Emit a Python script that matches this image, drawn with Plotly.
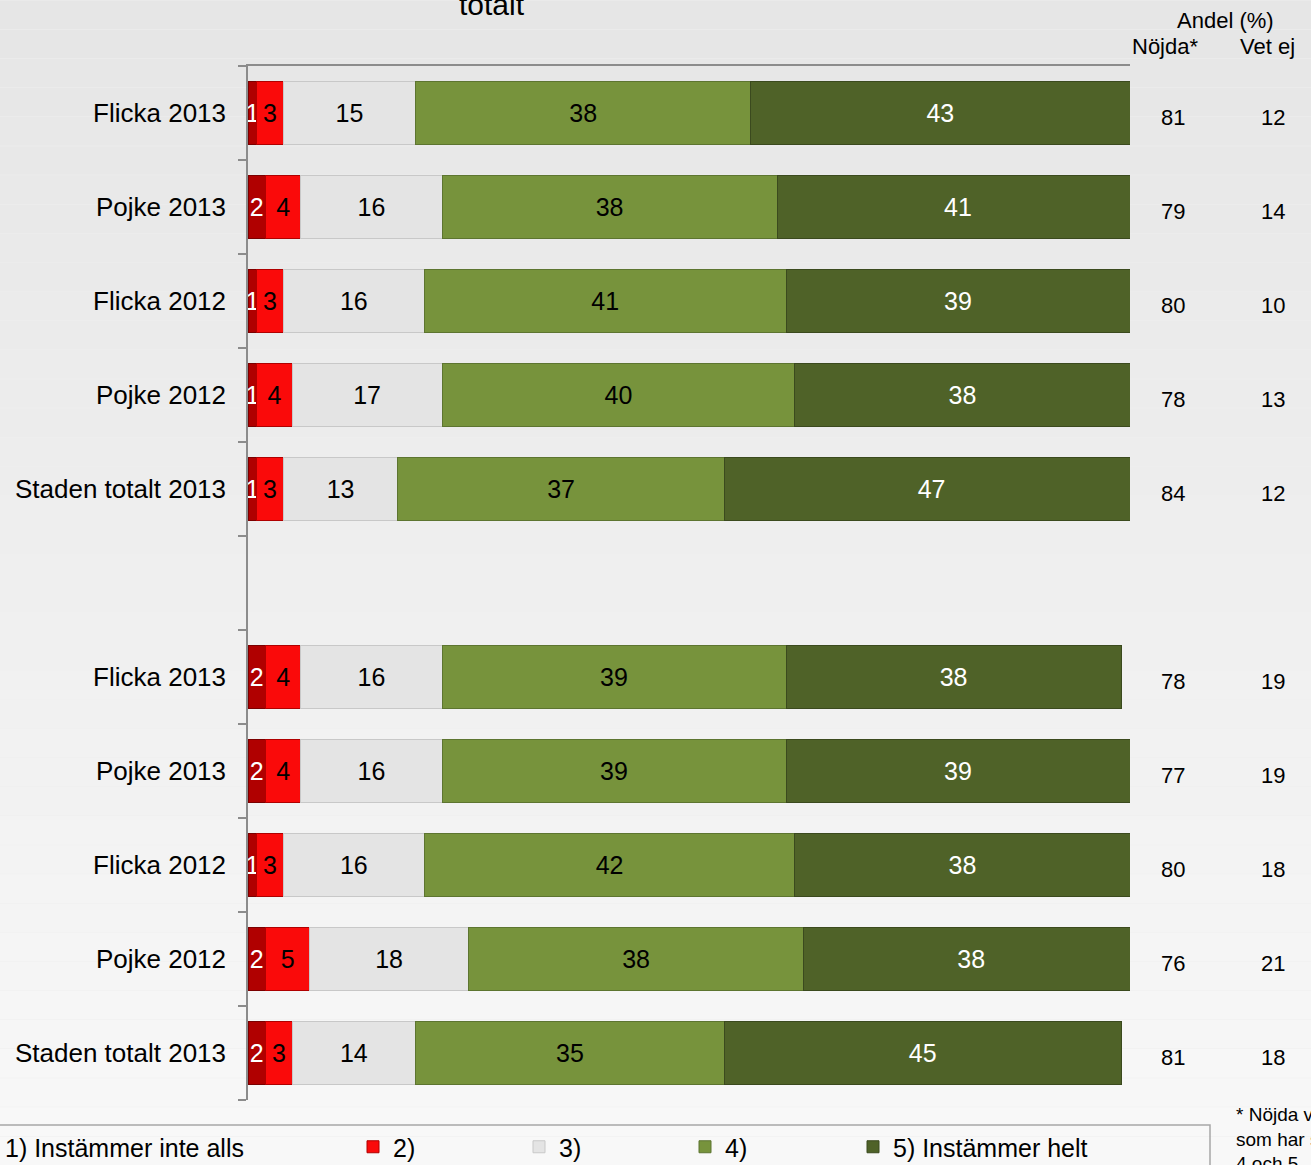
import plotly.graph_objects as go

# ---------------- data ----------------
categories = ["Flicka 2013", "Pojke 2013", "Flicka 2012", "Pojke 2012", "Staden totalt 2013",
              "Flicka 2013", "Pojke 2013", "Flicka 2012", "Pojke 2012", "Staden totalt 2013"]
group_of_row = [0, 0, 0, 0, 0, 1, 1, 1, 1, 1]

series_names = ["1) Instämmer inte alls", "2)", "3)", "4)", "5) Instämmer helt"]
s1 = [1, 2, 1, 1, 1, 2, 2, 1, 2, 2]
s2 = [3, 4, 3, 4, 3, 4, 4, 3, 5, 3]
s3 = [15, 16, 16, 17, 13, 16, 16, 16, 18, 14]
s4 = [38, 38, 41, 40, 37, 39, 39, 42, 38, 35]
s5 = [43, 41, 39, 38, 47, 38, 39, 38, 38, 45]

nojda = [81, 79, 80, 78, 84, 78, 77, 80, 76, 81]
vet_ej = [12, 14, 10, 13, 12, 19, 19, 18, 21, 18]

title_text = "totalt"
header_top = "Andel (%)"
header_nojda = "Nöjda*"
header_vetej = "Vet ej"
footnote = "* Nöjda visar andelen<br>som har svarat<br>4 och 5"

# ---------------- styling ----------------
FONT = "Liberation Sans, Arial, sans-serif"
fill_colors = ["#b00000", "#fa0a0a", "#e4e4e4", "#77933c", "#4f6228"]
edge_colors = ["#7a0000", "#b00000", "#c8c8c8", "#5d7530", "#3b4a1e"]
text_colors = ["white", "black", "black", "black", "white"]
legend_of_series = ["legend2", "legend", "legend", "legend", "legend3"]

# row positions: one empty slot between groups
rows = [i + g for i, g in enumerate(group_of_row)]
n_slots = max(rows) + 1

W, H = 1311, 1165
ML, MR, MT, MB = 248, 181, 66, 65
PW = W - ML - MR
PH = H - MT - MB


def px_x(p):
    return (p - ML) / PW


def px_y(p):
    return (H - MB - p) / PH


fig = go.Figure()

all_series = [s1, s2, s3, s4, s5]
for k, vals in enumerate(all_series):
    fig.add_trace(go.Bar(
        y=rows, x=vals, orientation="h", name=series_names[k],
        marker=dict(color=fill_colors[k], line=dict(color=edge_colors[k], width=1)),
        text=[str(v) for v in vals], textposition="inside",
        insidetextanchor="middle", constraintext="none", textangle=0,
        textfont=dict(family=FONT, size=25, color=text_colors[k]),
        legend=legend_of_series[k],
        hoverinfo="skip",
    ))

# background gradient (style only)
shapes = []
nb = 40
top_c = (0xe6, 0xe6, 0xe6)
bot_c = (0xf8, 0xf8, 0xf8)
y_top = px_y(0)
y_bot = px_y(H)
for b in range(nb):
    t = b / (nb - 1)
    c = tuple(int(round(top_c[j] + (bot_c[j] - top_c[j]) * t)) for j in range(3))
    ya = y_top + (y_bot - y_top) * b / nb
    yb = y_top + (y_bot - y_top) * (b + 1) / nb
    shapes.append(dict(type="rect", xref="paper", yref="paper",
                       x0=px_x(-2), x1=px_x(W + 2), y0=yb, y1=ya - 0.0005,
                       fillcolor="rgb(%d,%d,%d)" % c, line=dict(width=0), layer="below"))

# legend frame
shapes.append(dict(type="rect", xref="paper", yref="paper",
                   x0=px_x(-5), x1=px_x(1210), y0=px_y(1185), y1=px_y(1125),
                   fillcolor="rgba(0,0,0,0)", line=dict(color="#a6a6a6", width=1.5),
                   layer="above"))

annotations = []
annotations.append(dict(text=title_text, xref="paper", yref="paper",
                        x=px_x(492), y=px_y(23), xanchor="center", yanchor="bottom",
                        showarrow=False, font=dict(family=FONT, size=30, color="black")))
annotations.append(dict(text=header_top, xref="paper", yref="paper",
                        x=px_x(1225), y=px_y(20), xanchor="center", yanchor="middle",
                        showarrow=False, font=dict(family=FONT, size=22, color="black")))
annotations.append(dict(text=header_nojda, xref="paper", yref="paper",
                        x=px_x(1165), y=px_y(47), xanchor="center", yanchor="middle",
                        showarrow=False, font=dict(family=FONT, size=22, color="black")))
annotations.append(dict(text=header_vetej, xref="paper", yref="paper",
                        x=px_x(1267), y=px_y(47), xanchor="center", yanchor="middle",
                        showarrow=False, font=dict(family=FONT, size=22, color="black")))
for r, a, b in zip(rows, nojda, vet_ej):
    annotations.append(dict(text=str(a), xref="paper", yref="y", x=px_x(1173), y=r,
                            yshift=-4, xanchor="center", yanchor="middle", showarrow=False,
                            font=dict(family=FONT, size=22, color="black")))
    annotations.append(dict(text=str(b), xref="paper", yref="y", x=px_x(1273), y=r,
                            yshift=-4, xanchor="center", yanchor="middle", showarrow=False,
                            font=dict(family=FONT, size=22, color="black")))
annotations.append(dict(text=footnote, xref="paper", yref="paper",
                        x=px_x(1234), y=px_y(1102), xanchor="left", yanchor="top",
                        align="left", showarrow=False,
                        font=dict(family=FONT, size=19, color="black")))

legend_common = dict(orientation="h", y=px_y(1147), yanchor="middle", xanchor="left",
                     bgcolor="rgba(0,0,0,0)", borderwidth=0,
                     font=dict(family=FONT, size=25, color="black"))

fig.update_layout(
    width=W, height=H,
    margin=dict(l=ML, r=MR, t=MT, b=MB, autoexpand=False),
    barmode="stack", bargap=0.34,
    paper_bgcolor="#eeeeee", plot_bgcolor="rgba(0,0,0,0)",
    font=dict(family=FONT, size=25, color="black"),
    hovermode=False,
    xaxis=dict(range=[0, 100], side="top", showline=True, linecolor="#8c8c8c", linewidth=1.5,
               showticklabels=False, ticks="", showgrid=False, zeroline=False, fixedrange=True),
    yaxis=dict(range=[n_slots - 0.5, -0.5], tickvals=rows, ticktext=categories,
               ticks="", showline=True, linecolor="#8c8c8c", linewidth=1.5,
               showgrid=False, zeroline=False, ticklabelstandoff=15,
               tickfont=dict(family=FONT, size=26, color="black"),
               minor=dict(tickvals=[v - 0.5 for v in range(n_slots + 1)], ticks="outside",
                          ticklen=8, tickwidth=1.5, tickcolor="#8c8c8c", showgrid=False)),
    showlegend=True,
    legend=dict(x=px_x(353), entrywidth=121, entrywidthmode="pixels",
                traceorder="normal", **legend_common),
    legend2=dict(x=px_x(-35), **legend_common),
    legend3=dict(x=px_x(853), **legend_common),
    shapes=shapes, annotations=annotations,
)

fig.write_html("out.html",
               config={"displayModeBar": False},
               post_script="document.body.style.margin='0';"
                           "document.body.style.overflow='hidden';")
